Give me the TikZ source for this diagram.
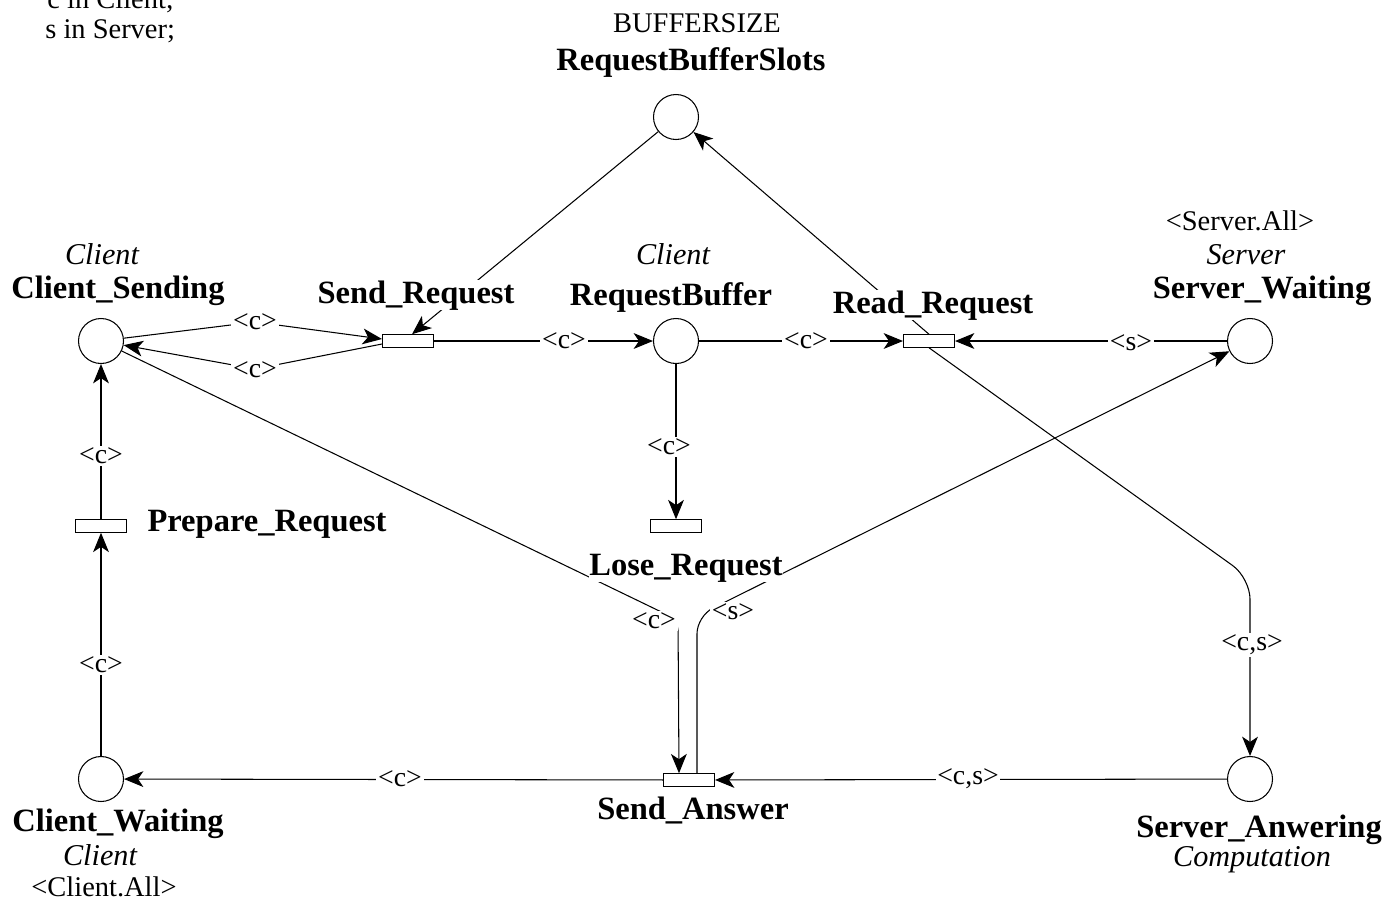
\documentclass[tikz,border=0pt]{standalone}
\usepackage{fontspec}
\setmainfont{Liberation Serif}
\usetikzlibrary{arrows.meta,calc}
\begin{document}
\begin{tikzpicture}[x=0.02cm,y=-0.02cm,
  place/.style={circle,draw,line width=0.6pt,minimum size=0.9cm,inner sep=0},
  trans/.style={rectangle,draw,line width=0.6pt,minimum width=1.02cm,minimum height=0.25cm,inner sep=0,fill=white},
  arc/.style={line width=0.6pt},
  arr/.style={arc,-{Stealth[length=11pt,width=9pt,inset=3pt]}},
  lab/.style={fill=white,inner sep=1pt,font=\fontsize{15.8}{17}\selectfont},
  bname/.style={anchor=base,inner sep=0,fill=white,font=\fontsize{18.5}{20}\selectfont\bfseries},
  itxt/.style={anchor=base,inner sep=0,font=\fontsize{17.2}{19}\selectfont\itshape},
  rtxt/.style={anchor=base,inner sep=0,font=\fontsize{16.2}{18}\selectfont},
]
\useasboundingbox (0,0) rectangle (1391,900);

% places and transitions
\node[place] (CS) at (101,341) {};
\node[trans] (SR) at (408,341) {};
\node[place] (RB) at (676,341) {};
\node[trans] (RR) at (929,341) {};
\node[place] (SW) at (1250,341) {};
\node[place] (RBS) at (676,117) {};
\node[trans] (PR) at (101,526) {};
\node[trans] (LR) at (676,526) {};
\node[place] (CW) at (101,779) {};
\node[trans] (SA) at (689,780) {};
\node[place] (SAw) at (1250,779) {};

% arcs
\draw[arr] (CS) -- (255,322) -- ($(SR.west)+(0,-2)$);
\draw[arr] ($(SR.west)+(0,3)$) -- (255,369) -- (CS);
\draw[arr] (SR) -- (RB);
\draw[arr] (RB) -- (RR);
\draw[arr] (SW) -- (RR);
\draw[arr] (RBS) -- ($(SR.north)+(4,0)$);
\draw[arr] (RR.north) -- (RBS);
\draw[arr,rounded corners=12pt] (RR.south) -- (1250,578) -- (SAw);
\draw[arr] (SAw) -- (SA);
\draw[arr] (SA) -- (CW);
\draw[arr] (CW) -- (PR);
\draw[arr] (PR) -- (CS);
\draw[arr] (RB) -- (LR);
\draw[arr,rounded corners=6pt] (CS) -- (678,620) -- ($(SA.north)+(-10,0)$);
\draw[arr,rounded corners=10pt] ($(SA.north)+(8,0)$) -- (697,616) -- (SW);

% arc labels
\node[lab] at (255,322) {<c>};
\node[lab] at (255,370) {<c>};
\node[lab] at (564,341) {<c>};
\node[lab] at (806,341) {<c>};
\node[lab] at (1131,343) {<s>};
\node[lab] at (669,447) {<c>};
\node[lab] at (101,456) {<c>};
\node[lab] at (101,665) {<c>};
\node[lab] at (400,779) {<c>};
\node[lab] at (968,779) {<c,s>};
\node[lab] at (1252,645) {<c,s>};
\node[lab] at (654,621) {<c>};
\node[lab] at (733,612) {<s>};

% names and inscriptions
\node[rtxt,anchor=base west] (decl1) at (47,8) {c in Client;};
\node[rtxt,anchor=base west] (decl2) at (45,38) {s in Server;};

\node[rtxt] (t1) at (697,32) {BUFFERSIZE};
\node[bname] (t2) at (691,70) {RequestBufferSlots};
\node[itxt] (t3) at (102,264) {Client};
\node[bname] (t4) at (118,298) {Client\_Sending};
\node[bname] (t5) at (416,303) {Send\_Request};
\node[itxt] (t6) at (673,264) {Client};
\node[bname] (t7) at (671,305) {RequestBuffer};
\node[bname] (t8) at (933,313) {Read\_Request};
\node[rtxt] (t9) at (1240,230) {<Server.All>};
\node[itxt] (t10) at (1246,264) {Server};
\node[bname] (t11) at (1262,298) {Server\_Waiting};
\node[bname] (t12) at (267,531) {Prepare\_Request};
\node[bname] (t13) at (686,575) {Lose\_Request};
\node[bname] (t14) at (693,819) {Send\_Answer};
\node[bname] (t15) at (118,831) {Client\_Waiting};
\node[itxt] (t16) at (100,865) {Client};
\node[rtxt] (t17) at (104,896) {<Client.All>};
\node[bname] (t18) at (1259,837) {Server\_Anwering};
\node[itxt] (t19) at (1252,866) {Computation};
\end{tikzpicture}
\end{document}
